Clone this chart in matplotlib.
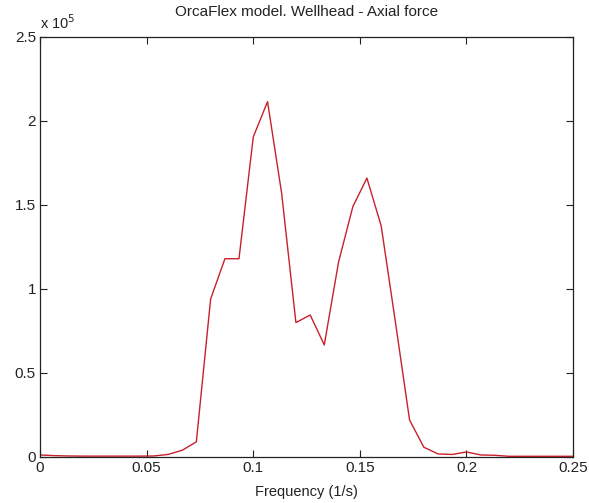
import matplotlib
matplotlib.use("Agg")
import matplotlib.pyplot as plt
from matplotlib.ticker import FuncFormatter

plt.rcParams['font.family'] = ['Liberation Sans', 'DejaVu Sans']

# Spectrum of wellhead axial force (N) vs. frequency (1/s)
freq = [0.0000, 0.0067, 0.0133, 0.0200, 0.0267, 0.0333, 0.0400, 0.0467,
        0.0533, 0.0600, 0.0667, 0.0733, 0.0800, 0.0867, 0.0933, 0.1000,
        0.1067, 0.1133, 0.1200, 0.1267, 0.1333, 0.1400, 0.1467, 0.1533,
        0.1600, 0.1667, 0.1733, 0.1800, 0.1867, 0.1933, 0.2000, 0.2067,
        0.2133, 0.2200, 0.2267, 0.2333, 0.2400, 0.2467, 0.2500]
force = [1200, 800, 600, 500, 500, 500, 500, 500,
         600, 1500, 4000, 9000, 94000, 118000, 118000, 190500,
         211500, 157000, 80000, 84500, 66700, 116000, 149000, 166000,
         137500, 80000, 22000, 5800, 1800, 1500, 3000, 1200,
         1000, 400, 400, 400, 400, 400, 400]

xticks = [0, 0.05, 0.1, 0.15, 0.2, 0.25]
yticks = [0, 0.5e5, 1.0e5, 1.5e5, 2.0e5, 2.5e5]
scale = 1e5

fig = plt.figure(figsize=(5.89, 5.03), dpi=100)
ax = fig.add_axes([0.068, 0.0915, 0.905, 0.835])

ax.plot(freq, force, color='#c8202c', linewidth=1.0)

ax.set_xlim(0, 0.25)
ax.set_ylim(0, 2.5e5)
ax.set_xticks(xticks)
ax.set_yticks(yticks)
ax.xaxis.set_major_formatter(FuncFormatter(lambda v, p: f"{v:g}"))
ax.yaxis.set_major_formatter(FuncFormatter(lambda v, p: f"{v / scale:g}"))

ax.tick_params(direction='in', top=True, right=True, length=5, width=0.8,
               labelsize=11, colors='#222222', pad=3)
for s in ax.spines.values():
    s.set_linewidth(0.9)
    s.set_color('#222222')

ax.set_title('OrcaFlex model. Wellhead - Axial force', fontsize=11, pad=15,
             color='#222222')
ax.set_xlabel('Frequency (1/s)', fontsize=10.5, labelpad=7, color='#222222')

fig.text(0.068, 0.937, r'x 10$^{5}$', fontsize=10.5, ha='left', va='bottom',
         color='#222222')

fig.savefig('out.png', dpi=100)
